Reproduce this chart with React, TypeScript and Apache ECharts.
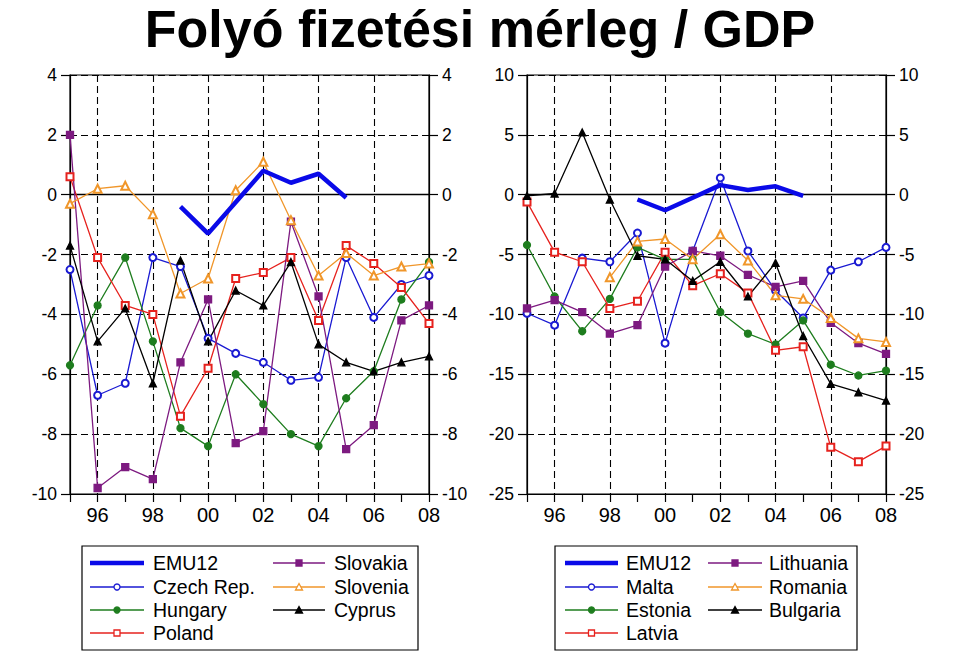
import React, { useEffect, useRef } from 'react';
import * as echarts from 'echarts';

const years = ['1995','1996','1997','1998','1999','2000','2001','2002','2003','2004','2005','2006','2007','2008'];

const titleText = 'Folyó fizetési mérleg / GDP';

// Left panel (values in % of GDP)
const emu12 = [null, null, null, null, -0.4, -1.3, -0.25, 0.8, 0.4, 0.7, -0.1, null, null, null];
const czech = [-2.5, -6.7, -6.3, -2.1, -2.4, -4.8, -5.3, -5.6, -6.2, -6.1, -2.1, -4.1, -3.0, -2.7];
const hungary = [-5.7, -3.7, -2.1, -4.9, -7.8, -8.4, -6.0, -7.0, -8.0, -8.4, -6.8, -5.9, -3.5, -2.25];
const poland = [0.6, -2.1, -3.7, -4.0, -7.4, -5.8, -2.8, -2.6, -2.1, -4.2, -1.7, -2.3, -3.1, -4.3];
const slovakia = [2.0, -9.8, -9.1, -9.5, -5.6, -3.5, -8.3, -7.9, -0.9, -3.4, -8.5, -7.7, -4.2, -3.7];
const slovenia = [-0.3, 0.2, 0.3, -0.65, -3.3, -2.8, 0.15, 1.1, -0.85, -2.7, -1.95, -2.7, -2.4, -2.3];
const cyprus = [-1.7, -4.9, -3.8, -6.3, -2.2, -4.9, -3.2, -3.7, -2.25, -5.0, -5.6, -5.9, -5.6, -5.4];

// Right panel
const malta = [-9.9, -10.9, -5.3, -5.6, -3.2, -12.4, -4.7, 1.4, -4.7, -8.0, -10.3, -6.3, -5.6, -4.4];
const estonia = [-4.2, -8.5, -11.4, -8.7, -4.4, -5.4, -5.4, -9.8, -11.6, -12.5, -10.5, -14.2, -15.1, -14.7];
const latvia = [-0.6, -4.8, -5.6, -9.5, -8.9, -4.8, -7.6, -6.6, -8.2, -13.0, -12.7, -21.1, -22.3, -21.0];
const lithuania = [-9.5, -8.8, -9.8, -11.6, -10.9, -6.0, -4.7, -5.1, -6.7, -7.7, -7.2, -10.7, -12.4, -13.3];
const romania = [null, null, null, -6.9, -3.9, -3.7, -5.4, -3.3, -5.5, -8.4, -8.7, -10.3, -12.0, -12.3];
const bulgaria = [-0.1, 0.1, 5.2, -0.4, -5.1, -5.4, -7.2, -5.6, -8.5, -5.7, -11.8, -15.8, -16.5, -17.2];

const leftNames = ['EMU12', 'Czech Rep.', 'Hungary', 'Poland', 'Slovakia', 'Slovenia', 'Cyprus'];
const rightNames = ['EMU12', 'Malta', 'Estonia', 'Latvia', 'Lithuania', 'Romania', 'Bulgaria'];
const leftData = [emu12, czech, hungary, poland, slovakia, slovenia, cyprus];
const rightData = [emu12, malta, estonia, latvia, lithuania, romania, bulgaria];

const leftYTicks = { min: -10, max: 4, interval: 2 };
const rightYTicks = { min: -25, max: 10, interval: 5 };

const FONT = 'Liberation Sans, Arial, Helvetica, sans-serif';

const styles = [
  { color: '#0a0ae8', symbol: 'none', size: 0, width: 4.5 },
  { color: '#1a1ad2', symbol: 'emptyCircle', size: 7, width: 1.3 },
  { color: '#1e7d1e', symbol: 'circle', size: 7, width: 1.3 },
  { color: '#e6221e', symbol: 'emptyRect', size: 7, width: 1.3 },
  { color: '#7d1a80', symbol: 'rect', size: 7, width: 1.3 },
  { color: '#f0962a', symbol: 'emptyTriangle', size: 8, width: 1.3 },
  { color: '#000000', symbol: 'triangle', size: 7, width: 1.3 },
];

function makeAxes(gridIndex: number, ticks: { min: number; max: number; interval: number }) {
  const dashed = { color: '#000', type: [7, 4] as any, width: 1.1 };
  const x = {
    gridIndex,
    type: 'category',
    data: years,
    boundaryGap: false,
    axisLine: { show: true, onZero: false, lineStyle: { color: '#000', width: 1.2 } },
    axisTick: { show: true, interval: 0, length: 8, lineStyle: { color: '#000', width: 1.2 } },
    axisLabel: {
      interval: (i: number) => i % 2 === 1,
      formatter: (v: string) => v.slice(2),
      color: '#000',
      fontSize: 20,
      fontFamily: FONT,
      margin: 11,
    },
    splitLine: { show: true, interval: (i: number) => i % 2 === 1 && i < 13, lineStyle: dashed },
  };
  const yBase = {
    gridIndex,
    type: 'value',
    min: ticks.min,
    max: ticks.max,
    interval: ticks.interval,
    axisLine: { show: true, lineStyle: { color: '#000', width: 1.2 } },
    axisTick: { show: true, length: 9, lineStyle: { color: '#000', width: 1.2 } },
    axisLabel: { color: '#000', fontSize: 17.5, fontFamily: FONT, margin: 13 },
  };
  const yL = { ...yBase, position: 'left', splitLine: { show: true, lineStyle: dashed } };
  const yR = { ...yBase, position: 'right', splitLine: { show: false } };
  return { x, yL, yR };
}

function makeSeries(names: string[], data: (number | null)[][], axisIdx: number) {
  return names.map((name, i) => {
    const s = styles[i];
    const series: any = {
      name,
      type: 'line',
      xAxisIndex: axisIdx,
      yAxisIndex: axisIdx * 2,
      data: data[i],
      symbol: s.symbol,
      symbolSize: s.size,
      showSymbol: s.symbol !== 'none',
      lineStyle: { color: s.color, width: s.width },
      itemStyle: { color: s.color, borderColor: s.color, borderWidth: 1.3 },
      z: i === 0 ? 4 : 3,
      silent: true,
    };
    if (i === 1) {
      series.markLine = {
        silent: true,
        symbol: ['none', 'none'],
        label: { show: false },
        lineStyle: { color: '#000', type: 'solid', width: 1.3 },
        data: [{ yAxis: 0 }],
        z: 2,
      };
    }
    return series;
  });
}

function legendGraphics(names: string[], box: { x: number; y: number; w: number; h: number }, cols: { lx1: number; lx2: number; tx: number }[]) {
  const rowsY = [563, 587, 610, 633];
  const els: any[] = [
    { type: 'rect', shape: { x: box.x, y: box.y, width: box.w, height: box.h }, style: { fill: '#fff', stroke: '#000', lineWidth: 1.2 } },
  ];
  names.forEach((name, i) => {
    const col = i < 4 ? cols[0] : cols[1];
    const row = i < 4 ? i : i - 4;
    const y = rowsY[row];
    const s = styles[i];
    const cx = (col.lx1 + col.lx2) / 2;
    els.push({ type: 'line', shape: { x1: col.lx1, y1: y, x2: col.lx2, y2: y }, style: { stroke: s.color, lineWidth: i === 0 ? 4.5 : 1.3 } });
    const m = 3;
    if (s.symbol === 'emptyCircle' || s.symbol === 'circle') {
      els.push({ type: 'circle', shape: { cx, cy: y, r: m }, style: { fill: s.symbol === 'circle' ? s.color : '#fff', stroke: s.color, lineWidth: 1.3 } });
    } else if (s.symbol === 'emptyRect' || s.symbol === 'rect') {
      els.push({ type: 'rect', shape: { x: cx - m, y: y - m, width: 2 * m, height: 2 * m }, style: { fill: s.symbol === 'rect' ? s.color : '#fff', stroke: s.color, lineWidth: 1.3 } });
    } else if (s.symbol === 'emptyTriangle' || s.symbol === 'triangle') {
      els.push({ type: 'polygon', shape: { points: [[cx, y - m - 0.5], [cx + m + 0.5, y + m], [cx - m - 0.5, y + m]] }, style: { fill: s.symbol === 'triangle' ? s.color : '#fff', stroke: s.color, lineWidth: 1.3 } });
    }
    els.push({ type: 'text', x: col.tx, y, style: { text: name, fill: '#000', font: `19.5px ${FONT}`, textVerticalAlign: 'middle', verticalAlign: 'middle', textAlign: 'left', align: 'left' } });
  });
  return els;
}

export default function App() {
  const ref = useRef<HTMLDivElement>(null);
  useEffect(() => {
    if (!ref.current) return;
    const chart = echarts.init(ref.current, undefined, { renderer: 'svg' });
    const a = makeAxes(0, leftYTicks);
    const b = makeAxes(1, rightYTicks);
    const option: any = {
      animation: false,
      backgroundColor: '#fff',
      textStyle: { fontFamily: FONT },
      grid: [
        { left: 70, top: 75, width: 359, height: 419, show: true, borderColor: '#000', borderWidth: 1.2, backgroundColor: 'transparent' },
        { left: 527, top: 75, width: 359, height: 419, show: true, borderColor: '#000', borderWidth: 1.2, backgroundColor: 'transparent' },
      ],
      xAxis: [a.x, b.x],
      yAxis: [a.yL, a.yR, b.yL, b.yR],
      series: [...makeSeries(leftNames, leftData, 0), ...makeSeries(rightNames, rightData, 1)],
      graphic: [
        { type: 'text', x: 480, y: 29, scaleX: 1.02, style: { text: titleText, fill: '#000', font: `bold 51px ${FONT}`, textAlign: 'center', align: 'center', textVerticalAlign: 'middle', verticalAlign: 'middle' } },
        ...legendGraphics(leftNames, { x: 82, y: 546, w: 336, h: 104 }, [{ lx1: 90, lx2: 144, tx: 153 }, { lx1: 273, lx2: 325, tx: 334 }]),
        ...legendGraphics(rightNames, { x: 555, y: 546, w: 302, h: 104 }, [{ lx1: 565, lx2: 618, tx: 626 }, { lx1: 708, lx2: 762, tx: 769 }]),
      ],
    };
    chart.setOption(option);
    return () => chart.dispose();
  }, []);
  return <div ref={ref} style={{ position: 'fixed', left: 0, top: 0, width: 959, height: 670 }} />;
}
